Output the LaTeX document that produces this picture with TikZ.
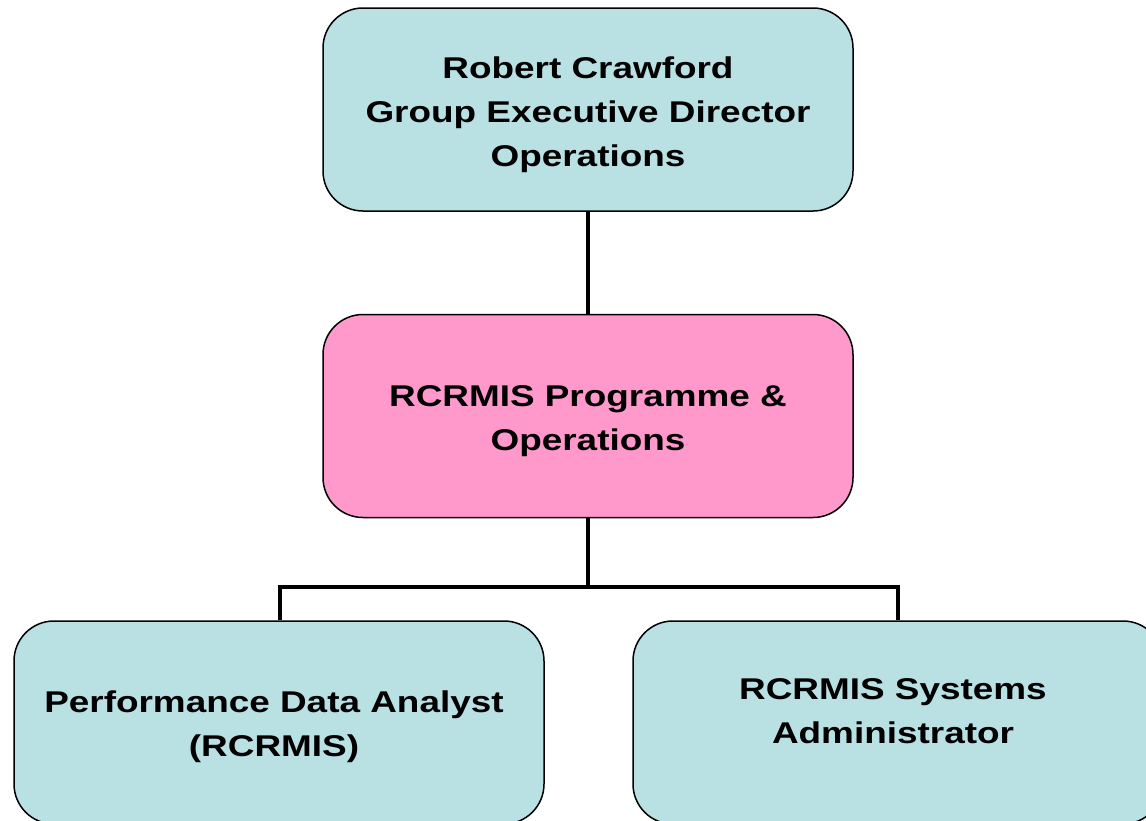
\documentclass[tikz,border=0pt]{standalone}
\usepackage{fontspec}
\setmainfont[FakeStretch=1.23]{Liberation Sans}
\definecolor{boxblue}{RGB}{185,224,227}
\definecolor{boxpink}{RGB}{255,153,204}
\begin{document}
\begin{tikzpicture}[x=1pt,y=-1pt,
  box/.style={draw=black,line width=1.5pt,rounded corners=40pt,minimum width=530pt,minimum height=203pt,inner sep=0pt},
  txt/.style={inner sep=0pt,align=center,font=\fontsize{30}{44}\selectfont\bfseries},
  conn/.style={line width=4.5pt}]
\useasboundingbox (0,0) rectangle (1146,820);
\node[box,fill=boxblue] (rc) at (588,109.5) {};
\node[box,fill=boxpink] (po) at (588,416) {};
\node[box,fill=boxblue] (pda) at (279,722.5) {};
\node[box,fill=boxblue] (sa) at (898,722.5) {};
\node[txt] (rct) at (588,115) {Robert Crawford\\Group Executive Director\\Operations};
\node[txt] (pot) at (588,421) {RCRMIS Programme \&\\Operations};
\node[txt] (pdat) at (274,727) {Performance Data Analyst\\(RCRMIS)};
\node[txt] (sat) at (893,711) {RCRMIS Systems\\Administrator};
\coordinate (j) at (588,587);
\draw[conn] (rc.south) -- (po.north);
\draw[conn] (po.south) -- (j);
\draw[conn] (j) -| (pda.north -| 280,0);
\draw[conn] (j) -| (sa.north);
\end{tikzpicture}
\end{document}
